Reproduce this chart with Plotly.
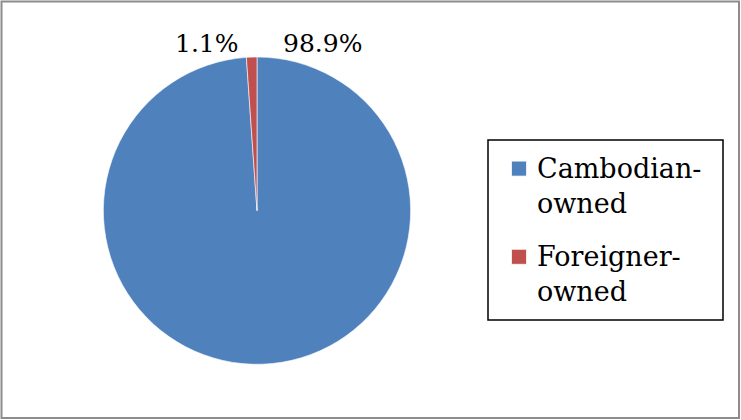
import plotly.graph_objects as go

categories = ["Cambodian-owned", "Foreigner-owned"]
legend_labels = ["Cambodian-<br>owned", "Foreigner-<br>owned"]
values = [98.9, 1.1]
colors = ["#4F81BD", "#C0504D"]
label_text = ["98.9%", "1.1%"]

W, H = 741, 420
FONT = "DejaVu Serif"

fig = go.Figure()
fig.add_trace(go.Pie(
    labels=legend_labels,
    values=values,
    sort=False,
    direction="clockwise",
    rotation=0,
    marker=dict(colors=colors, line=dict(color="white", width=0.6)),
    textinfo="none",
    hoverinfo="label+percent",
    domain=dict(x=[103.3 / W, 410.7 / W], y=[1 - 364.3 / H, 1 - 57 / H]),
    showlegend=True,
))

# data labels (Excel best-fit positions)
label_pos = [(322, 44), (207, 44)]
for txt, (px, py) in zip(label_text, label_pos):
    fig.add_annotation(
        x=px / W, y=1 - py / H, xref="paper", yref="paper",
        text=txt, showarrow=False, xanchor="center", yanchor="middle",
        font=dict(family=FONT, size=25, color="black"),
    )

shapes = [
    # outer chart border
    dict(type="rect", xref="paper", yref="paper",
         x0=1.5 / W, x1=(W - 2) / W, y0=2 / H, y1=1 - 1.5 / H,
         line=dict(color="#8C8C8C", width=2), fillcolor="rgba(0,0,0,0)", layer="below"),
    # legend box
    dict(type="rect", xref="paper", yref="paper",
         x0=488 / W, x1=723 / W, y0=1 - 320 / H, y1=1 - 140 / H,
         line=dict(color="black", width=1.5), fillcolor="rgba(0,0,0,0)"),
]

fig.update_layout(
    width=W, height=H,
    margin=dict(l=0, r=0, t=0, b=0),
    paper_bgcolor="white",
    plot_bgcolor="white",
    font=dict(family=FONT, size=27, color="black"),
    shapes=shapes,
    legend=dict(
        x=497 / W, y=1 - 143 / H, xanchor="left", yanchor="top",
        font=dict(family=FONT, size=27, color="black"),
        bgcolor="rgba(0,0,0,0)", borderwidth=0,
    ),
)

post = """
document.body.style.margin = '0';
document.querySelectorAll('.legend .scrollbox').forEach(function(s){
  s.removeAttribute('clip-path');
});
document.querySelectorAll('.legend').forEach(function(s){
  s.removeAttribute('clip-path');
});
document.querySelectorAll('.legendpoints path.legendpie').forEach(function(p){
  p.setAttribute('transform', 'translate(22,-16) scale(1.25)');
});
var tr = document.querySelectorAll('.legend .traces');
if (tr.length > 1) {
  var t = tr[1].getAttribute('transform') || '';
  var m = /translate\\(([-\\d.]+),\\s*([-\\d.]+)\\)/.exec(t);
  if (m) { tr[1].setAttribute('transform', 'translate(' + m[1] + ',' + (parseFloat(m[2]) + 15) + ')'); }
}
"""

fig.write_html("out.html", post_script=post, config={"displayModeBar": False})
